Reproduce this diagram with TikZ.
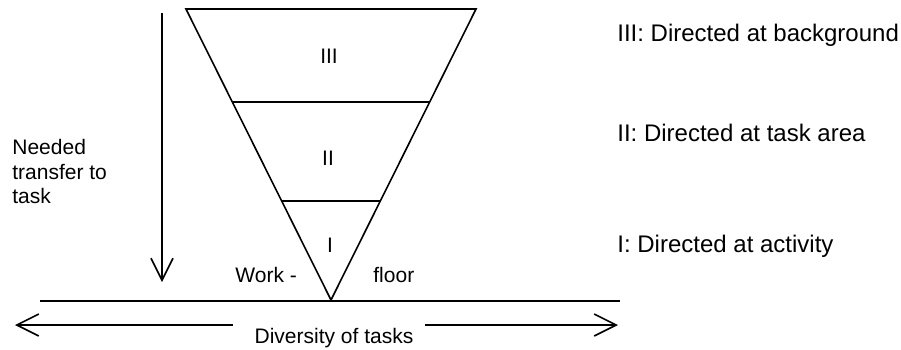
\documentclass[tikz,border=0pt]{standalone}
\usepackage{fontspec}
\setmainfont{Liberation Sans}
\usetikzlibrary{arrows.meta,calc}
\tikzset{
  ln/.style={line width=0.8pt},
  arr/.style={ln,-{Straight Barb[length=11pt,width=11pt,line width=0.8pt]}},
  lbl/.style={inner sep=0pt,font=\fontsize{10.5}{12.25}\selectfont},
  lvl/.style={inner sep=0pt,anchor=base west,font=\fontsize{12}{14}\selectfont}
}
\begin{document}
\begin{tikzpicture}[x=0.5pt,y=-0.5pt]
\useasboundingbox (0,0) rectangle (901,349);
% funnel
\coordinate (tl) at (186,9);
\coordinate (tr) at (476,9);
\coordinate (apex) at (331,300);
\draw[ln,line join=miter] (tl) -- (tr) -- (apex) -- cycle;
\coordinate (aL) at ($(tl)!0.32!(apex)$);
\coordinate (aR) at ($(tr)!0.32!(apex)$);
\coordinate (bL) at ($(tl)!0.66!(apex)$);
\coordinate (bR) at ($(tr)!0.66!(apex)$);
\draw[ln] (aL) -- (aR);
\draw[ln] (bL) -- (bR);
\foreach \x/\y/\txt in {329/63/III,328/165/II,330/252/I}
    \node[lbl,anchor=base] (lv\txt) at (\x,\y) {\txt};
\node[lbl,anchor=base west] (work) at (235,282) {Work -};
\node[lbl,anchor=base west] (floor) at (373,282) {floor};
% floor line
\coordinate (fl) at (40,301);
\coordinate (fr) at (620,301);
\draw[ln] (fl) -- (fr);
% transfer arrow
\coordinate (vtop) at (162,13);
\coordinate (vbot) at (162,282);
\draw[arr] (vtop) -- (vbot);
\foreach \y/\txt [count=\i] in {154/Needed,179/transfer to,203/task}
    \node[lbl,anchor=base west] (need\i) at (12,\y) {\txt};
% diversity arrow
\node[lbl,anchor=base] (div) at (334,343) {Diversity of tasks};
\coordinate (dl) at (233,325);
\coordinate (dr) at (425,325);
\coordinate (ltip) at (15,325);
\coordinate (rtip) at (618,325);
\draw[arr] (dl) -- (ltip);
\draw[arr] (dr) -- (rtip);
% levels
\foreach \y/\txt [count=\i] in {41/III: Directed at background,141/II: Directed at task area,252/I: Directed at activity}
    \node[lvl] (desc\i) at (617,\y) {\txt};
\end{tikzpicture}
\end{document}
